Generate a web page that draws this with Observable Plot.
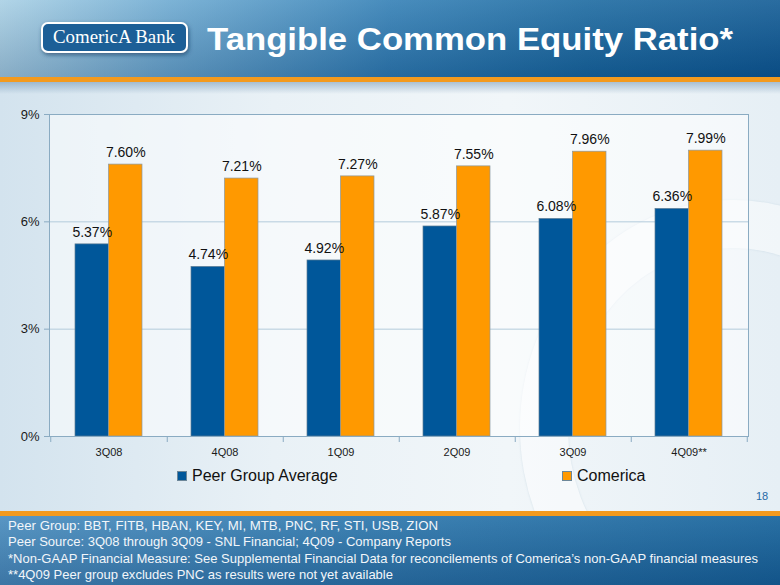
<!DOCTYPE html>
<html>
<head>
<meta charset="utf-8">
<script src="https://cdn.jsdelivr.net/npm/d3@7"></script>
<script src="https://cdn.jsdelivr.net/npm/@observablehq/plot@0.6"></script>
<style>
  html, body { margin: 0; padding: 0; }
  body { width: 780px; height: 585px; overflow: hidden; font-family: "Liberation Sans", Arial, sans-serif; }
  #page { position: relative; width: 780px; height: 585px; overflow: hidden;
    background: linear-gradient(to right, #d3e3ee 0%, #e9f1f6 35%, #f1f6f9 65%, #e6eff5 100%); }
  #ring { position: absolute; left: 520px; top: 200px; width: 330px; height: 360px; border-radius: 50%;
    border: 48px solid rgba(255,255,255,0.45); box-shadow: 0 0 2px rgba(150,180,200,0.35), inset 0 0 2px rgba(150,180,200,0.35); }
  #header { position: absolute; left: 0; top: 0; width: 780px; height: 77px;
    background: linear-gradient(to bottom, rgba(255,255,255,0.12), rgba(0,20,60,0.18)),
                linear-gradient(to right, #a7cfe4 0%, #6aa8d0 22%, #2f7db4 50%, #17679f 75%, #0c5893 100%); }
  #hline { position: absolute; left: 0; top: 77px; width: 780px; height: 5px; background: #f39a1e; }
  #hshadow { position: absolute; left: 0; top: 82px; width: 780px; height: 12px;
    background: linear-gradient(to bottom, rgba(90,130,165,0.45), rgba(90,130,165,0)); }
  #footline { position: absolute; left: 0; top: 511px; width: 780px; height: 5px; background: #f39a1e; }
  #footer { position: absolute; left: 0; top: 516px; width: 780px; height: 69px;
    background: linear-gradient(to bottom, rgba(255,255,255,0.08), rgba(0,20,60,0.2)),
                linear-gradient(to right, #4b8ebf 0%, #2f79ae 45%, #17649c 100%); }
  #overlay { position: absolute; left: 0; top: 0; }
  #chart { position: absolute; left: 0; top: 100px; }
  .leg { position: absolute; top: 466px; font-size: 16px; color: #111; line-height: 20px; white-space: nowrap; }
  .sw { position: absolute; width: 10px; height: 10px; top: 471px; box-sizing: border-box; border: 1px solid #6d8799; }
  #pagenum { position: absolute; left: 756px; top: 490px; font-size: 11px; color: #1f6aa6; }
</style>
</head>
<body>
<div id="page">
  <div id="ring"></div>
  <div id="header"></div>
  <div id="hline"></div>
  <div id="hshadow"></div>
  <div id="chart"></div>
  <div id="legend"></div>
  <div id="pagenum">18</div>
  <div id="footline"></div>
  <div id="footer"></div>
  <svg id="overlay" width="780" height="585"></svg>
</div>
<script>
// ---- data ----
const quarters = ["3Q08", "4Q08", "1Q09", "2Q09", "3Q09", "4Q09**"];
const peerValues = [5.37, 4.74, 4.92, 5.87, 6.08, 6.36];
const comericaValues = [7.60, 7.21, 7.27, 7.55, 7.96, 7.99];
const yTicks = [0, 3, 6, 9];
const seriesNames = ["Peer Group Average", "Comerica"];
const seriesColors = ["#00579a", "#ff9900"];
const titleText = "Tangible Common Equity Ratio*";
const logoText = "ComericA Bank";
const footnotes = [
  "Peer Group: BBT, FITB, HBAN, KEY, MI, MTB, PNC, RF, STI, USB, ZION",
  "Peer Source: 3Q08 through 3Q09 - SNL Financial; 4Q09 - Company Reports",
  "*Non-GAAP Financial Measure: See Supplemental Financial Data for reconcilements of Comerica\u2019s non-GAAP financial measures",
  "**4Q09 Peer group excludes PNC as results were not yet available"
];

const peer = quarters.map((q, i) => ({quarter: q, value: peerValues[i], series: seriesNames[0]}));
const comerica = quarters.map((q, i) => ({quarter: q, value: comericaValues[i], series: seriesNames[1]}));

// ---- layout ----
const W = 780, H = 360, ML = 49, MR = 32, MT = 14, MB = 24;
const PI = 0.425, PO = 0.2125;
const step = (W - ML - MR) / (quarters.length - PI + 2 * PO);
const bw = step * (1 - PI);
const half = bw / 2;
const fmt = d => d.value.toFixed(2) + "%";
const axisColor = "#8aabc2";

const chart = Plot.plot({
  width: W, height: H,
  marginLeft: ML, marginRight: MR, marginTop: MT, marginBottom: MB,
  style: {fontFamily: "'Liberation Sans', Arial, sans-serif", background: "transparent", overflow: "visible", color: "#1a1a1a"},
  x: {domain: quarters, paddingInner: PI, paddingOuter: PO, label: null},
  y: {domain: [0, 9], label: null},
  marks: [
    Plot.frame({fill: "#ffffff", fillOpacity: 0.55, stroke: null}),
    Plot.gridY(yTicks.filter(t => t > 0 && t < 9), {stroke: "#b3cbdb", strokeOpacity: 1}),
    Plot.barY(peer, {x: "quarter", y: "value", fill: seriesColors[0], insetRight: half, stroke: "#5d7d94", strokeWidth: 0.7}),
    Plot.barY(comerica, {x: "quarter", y: "value", fill: seriesColors[1], insetLeft: half, stroke: "#8a98a0", strokeWidth: 0.7}),
    Plot.text(peer, {x: "quarter", y: "value", text: fmt, dx: -bw / 4, dy: -12, fontSize: 14, fill: "#111"}),
    Plot.text(comerica, {x: "quarter", y: "value", text: fmt, dx: bw / 4, dy: -12, fontSize: 14, fill: "#111"}),
    Plot.axisY({ticks: yTicks, tickFormat: d => d + "%", tickSize: 5, tickPadding: 5, fontSize: 13, stroke: axisColor, fill: "#1a1a1a"}),
    Plot.axisX({tickSize: 0, tickPadding: 12, fontSize: 11, fill: "#1a1a1a"}),
    Plot.axisX({tickSize: 6, tickFormat: () => "", dx: step / 2, stroke: axisColor}),
    Plot.axisX([quarters[0]], {tickSize: 6, tickFormat: () => "", dx: -step / 2, stroke: axisColor}),
    Plot.frame({stroke: axisColor})
  ]
});
document.getElementById("chart").appendChild(chart);

// ---- legend ----
const legend = document.getElementById("legend");
const legPos = [{sw: 177, tx: 192}, {sw: 562, tx: 577}];
seriesNames.forEach((name, i) => {
  const sw = document.createElement("div");
  sw.className = "sw"; sw.style.left = legPos[i].sw + "px"; sw.style.background = seriesColors[i];
  legend.appendChild(sw);
  const t = document.createElement("div");
  t.className = "leg"; t.style.left = legPos[i].tx + "px"; t.textContent = name;
  legend.appendChild(t);
});

// ---- header / footer text ----
const svg = d3.select("#overlay");
const defs = svg.append("defs");
const f = defs.append("filter").attr("id", "sh").attr("x", "-10%").attr("y", "-20%").attr("width", "130%").attr("height", "160%");
f.append("feDropShadow").attr("dx", 1).attr("dy", 2).attr("stdDeviation", 2).attr("flood-color", "#0b3358").attr("flood-opacity", 0.6);

svg.append("rect").attr("x", 42).attr("y", 23).attr("width", 145).attr("height", 29).attr("rx", 6)
  .attr("fill", "#1b5f97").attr("stroke", "#ffffff").attr("stroke-width", 2).attr("filter", "url(#sh)");
svg.append("text").attr("x", 53).attr("y", 43).attr("font-family", "'Liberation Serif', 'DejaVu Serif', serif")
  .attr("font-size", 19).attr("fill", "#ffffff").attr("textLength", 122).attr("lengthAdjust", "spacingAndGlyphs").text(logoText);
svg.append("text").attr("x", 207).attr("y", 50).attr("font-family", "'Liberation Sans', Arial, sans-serif")
  .attr("font-weight", "bold").attr("font-size", 32).attr("fill", "#ffffff")
  .attr("textLength", 526).attr("lengthAdjust", "spacingAndGlyphs").text(titleText);

const footLens = [430, 443, 750, 385];
const footY = [530, 546, 563, 579];
footnotes.forEach((line, i) => {
  svg.append("text").attr("x", 8).attr("y", footY[i]).attr("font-family", "'Liberation Sans', Arial, sans-serif")
    .attr("font-size", 13).attr("fill", "#f2f6fa").attr("textLength", footLens[i]).attr("lengthAdjust", "spacingAndGlyphs").text(line);
});
</script>
</body>
</html>
